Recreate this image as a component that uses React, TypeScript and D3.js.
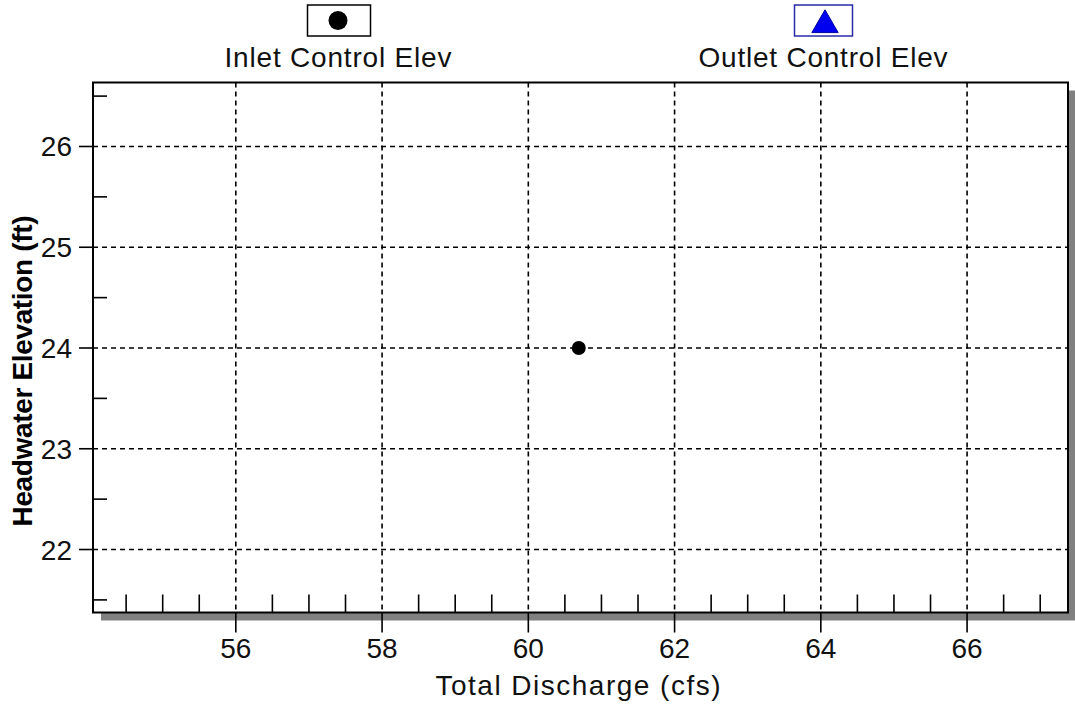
import React from "react";
import * as d3 from "d3";

// Inlet-control headwater point (discharge in cfs, elevation in ft)
const inletDischarge = [60.69];
const inletElevation = [24.0];
// Outlet-control series has no computed points
const outletDischarge: number[] = [];
const outletElevation: number[] = [];

const xMajorTicks = [56, 58, 60, 62, 64, 66];
const xMinorTicks = [54.5, 55, 55.5, 56.5, 57, 57.5, 58.5, 59, 59.5, 60.5, 61, 61.5, 62.5, 63, 63.5, 64.5, 65, 65.5, 66.5, 67];
const yMajorTicks = [22, 23, 24, 25, 26];
const yMinorTicks = [21.5, 22.5, 23.5, 24.5, 25.5, 26.5];

const legendLabels = ["Inlet Control Elev", "Outlet Control Elev"];
const xTitle = "Total Discharge (cfs)";
const yTitle = "Headwater Elevation (ft)";

const W = 1075;
const H = 705;
const plot = { left: 93, right: 1068, top: 82.5, bottom: 612.5 };
const FONT = "'Liberation Sans', Arial, sans-serif";

export default function App() {
  const x = d3.scaleLinear().domain([54.047, 67.38]).range([plot.left, plot.right]);
  const y = d3.scaleLinear().domain([21.375, 26.635]).range([plot.bottom, plot.top]);
  const pw = plot.right - plot.left;
  const ph = plot.bottom - plot.top;
  const tri = d3.symbol().type(d3.symbolTriangle).size(300)();

  return (
    <svg width={W} height={H} style={{ position: "absolute", left: 0, top: 0, background: "#fff" }} fontFamily={FONT}>
      <rect x={0} y={0} width={W} height={H} fill="#fff" />

      {/* legend */}
      <g>
        <rect x={307.5} y={5} width={63} height={31} fill="#fff" stroke="#000" strokeWidth={1.5} />
        <circle cx={338} cy={20.5} r={9.5} fill="#000" />
        <text x={338} y={67} textAnchor="middle" fontSize={28} textLength={227} lengthAdjust="spacing" fill="#111">
          {legendLabels[0]}
        </text>
        <rect x={794.5} y={5} width={58} height={31} fill="#fff" stroke="#2a2aa8" strokeWidth={1.5} />
        <path d={tri} transform="translate(825,25)" fill="#0000ee" stroke="#0000a0" strokeWidth={1} />
        <text x={823} y={67} textAnchor="middle" fontSize={28} textLength={249} lengthAdjust="spacing" fill="#111">
          {legendLabels[1]}
        </text>
      </g>

      {/* drop shadow and plot frame */}
      <rect x={plot.left + 8} y={plot.top + 8} width={pw} height={ph} fill="#808080" />
      <rect x={plot.left} y={plot.top} width={pw} height={ph} fill="#fff" />

      {/* grid */}
      <g stroke="#000" strokeWidth={1.6} strokeDasharray="5,4">
        {xMajorTicks.map((v) => (
          <line key={"gx" + v} x1={x(v)} x2={x(v)} y1={plot.top} y2={plot.bottom} />
        ))}
        {yMajorTicks.map((v) => (
          <line key={"gy" + v} x1={plot.left} x2={plot.right} y1={y(v)} y2={y(v)} />
        ))}
      </g>

      {/* ticks */}
      <g stroke="#000" strokeWidth={1.6}>
        {xMinorTicks.map((v) => (
          <line key={"mx" + v} x1={x(v)} x2={x(v)} y1={plot.bottom} y2={plot.bottom - 18} />
        ))}
        {xMajorTicks.map((v) => (
          <line key={"tx" + v} x1={x(v)} x2={x(v)} y1={plot.bottom} y2={plot.bottom + 20} />
        ))}
        {yMinorTicks.map((v) => (
          <line key={"my" + v} x1={plot.left} x2={plot.left + 14} y1={y(v)} y2={y(v)} />
        ))}
        {yMajorTicks.map((v) => (
          <line key={"ty" + v} x1={plot.left} x2={plot.left - 14} y1={y(v)} y2={y(v)} />
        ))}
      </g>

      <rect x={plot.left} y={plot.top} width={pw} height={ph} fill="none" stroke="#000" strokeWidth={2} />

      {/* tick labels */}
      <g fontSize={28} fill="#111">
        {xMajorTicks.map((v) => (
          <text key={"lx" + v} x={x(v)} y={658} textAnchor="middle">
            {v}
          </text>
        ))}
        {yMajorTicks.map((v) => (
          <text key={"ly" + v} x={72} y={y(v) + 10} textAnchor="end">
            {v}
          </text>
        ))}
      </g>

      {/* axis titles */}
      <text x={578} y={695} textAnchor="middle" fontSize={28} textLength={285} lengthAdjust="spacing" fill="#111">
        {xTitle}
      </text>
      <text
        transform={`translate(32,371) rotate(-90)`}
        textAnchor="middle"
        fontSize={28}
        fontWeight="bold"
        textLength={311}
        lengthAdjust="spacing"
        fill="#000"
      >
        {yTitle}
      </text>

      {/* data */}
      {inletDischarge.map((q, i) => (
        <circle key={"in" + i} cx={x(q)} cy={y(inletElevation[i])} r={7} fill="#000" />
      ))}
      {outletDischarge.map((q, i) => (
        <path key={"out" + i} d={tri} transform={`translate(${x(q)},${y(outletElevation[i])})`} fill="#0000ee" />
      ))}
    </svg>
  );
}
